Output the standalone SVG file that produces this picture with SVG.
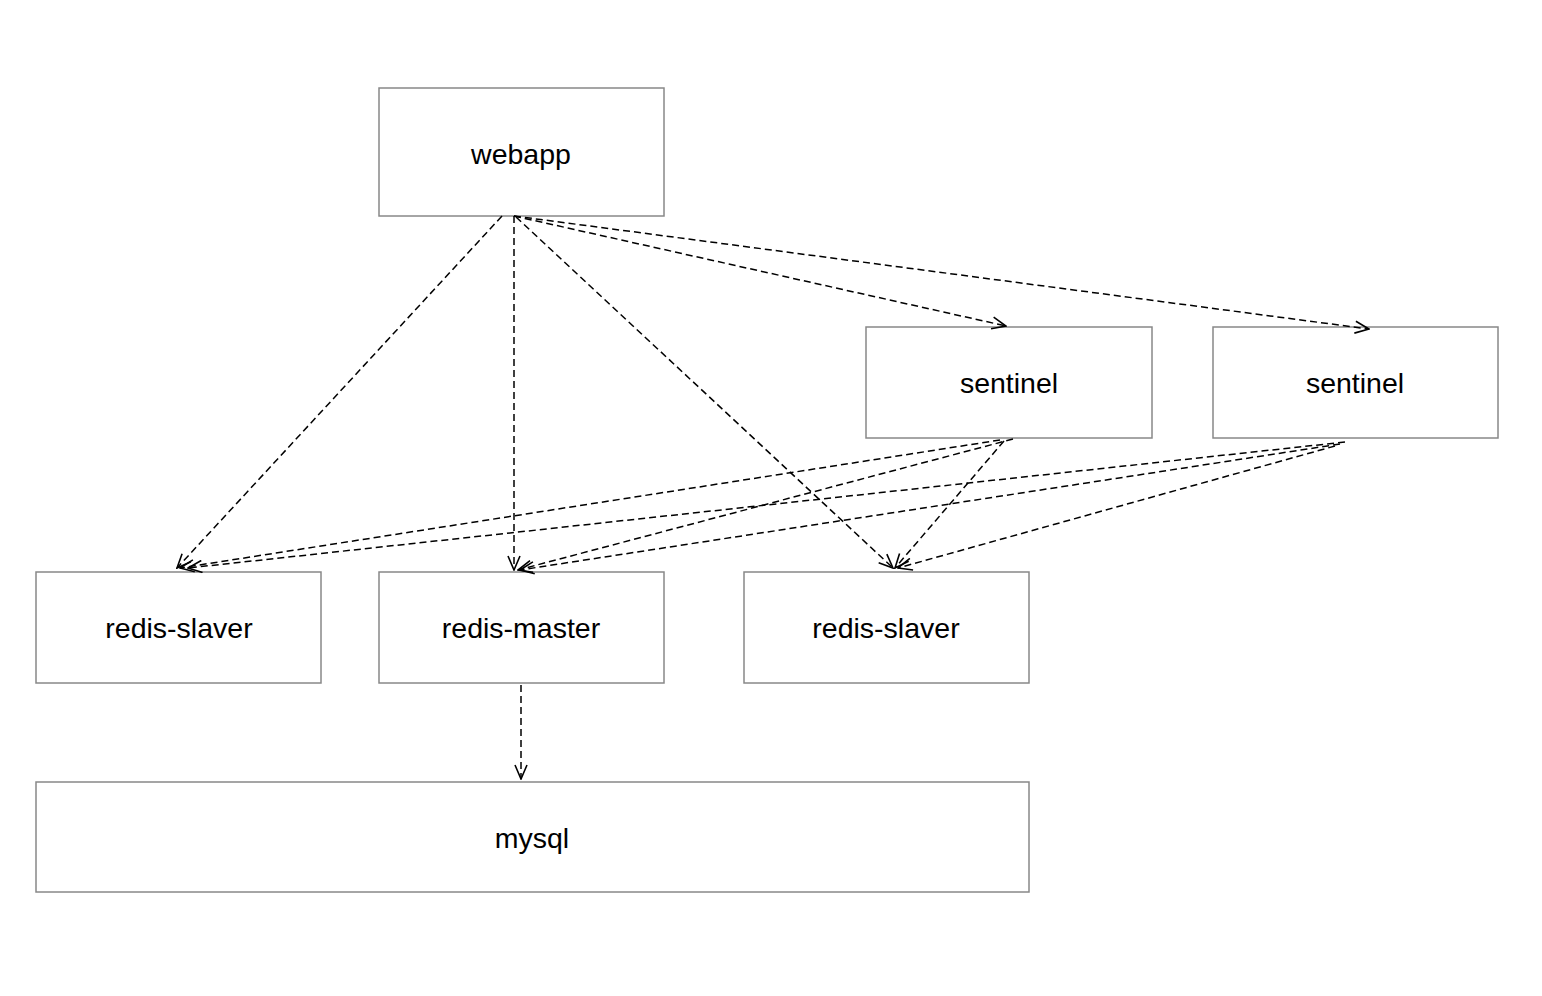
<svg xmlns="http://www.w3.org/2000/svg" width="1542" height="996" viewBox="0 0 1542 996">
<style>
.box{fill:#fff;stroke:#888;stroke-width:1.5}
.lbl{font-family:"Liberation Sans",Arial,sans-serif;font-size:28.5px;fill:#000;text-anchor:middle;dominant-baseline:central}
.e{fill:none;stroke:#000;stroke-width:1.5;stroke-dasharray:7,4;marker-end:url(#ah)}
</style>
<defs>
<marker id="ah" viewBox="0 0 16 14" refX="15" refY="7" markerWidth="16" markerHeight="14" markerUnits="userSpaceOnUse" orient="auto">
<path d="M1,1 L15,7 L1,13" fill="none" stroke="#000" stroke-width="1.6"/>
</marker>
</defs>
<rect width="1542" height="996" fill="#fff"/>
<g id="webapp"><rect class="box" x="379" y="88" width="285" height="128"/><text class="lbl" x="521" y="154">webapp</text></g>
<g id="sentinel1"><rect class="box" x="866" y="327" width="286" height="111"/><text class="lbl" x="1009" y="383">sentinel</text></g>
<g id="sentinel2"><rect class="box" x="1213" y="327" width="285" height="111"/><text class="lbl" x="1355" y="383">sentinel</text></g>
<g id="redis-slaver1"><rect class="box" x="36" y="572" width="285" height="111"/><text class="lbl" x="179" y="628">redis-slaver</text></g>
<g id="redis-master"><rect class="box" x="379" y="572" width="285" height="111"/><text class="lbl" x="521" y="628">redis-master</text></g>
<g id="redis-slaver2"><rect class="box" x="744" y="572" width="285" height="111"/><text class="lbl" x="886" y="628">redis-slaver</text></g>
<g id="mysql"><rect class="box" x="36" y="782" width="993" height="110"/><text class="lbl" x="532" y="838">mysql</text></g>
<g id="connectors">
<line class="e" x1="502" y1="216" x2="177" y2="568"/>
<line class="e" x1="514" y1="216" x2="514" y2="570"/>
<line class="e" x1="516" y1="217" x2="893" y2="568"/>
<line class="e" x1="514" y1="216" x2="1006" y2="326"/>
<line class="e" x1="514" y1="216" x2="1369" y2="329"/>
<line class="e" x1="1000" y1="440" x2="180" y2="568"/>
<line class="e" x1="1013" y1="439" x2="518" y2="570"/>
<line class="e" x1="1004" y1="441" x2="895" y2="568"/>
<line class="e" x1="1345" y1="442" x2="188" y2="568"/>
<line class="e" x1="1340" y1="444" x2="520" y2="570"/>
<line class="e" x1="1335" y1="446" x2="898" y2="568"/>
<line class="e" x1="521" y1="685" x2="521" y2="779"/>
</g>
</svg>
